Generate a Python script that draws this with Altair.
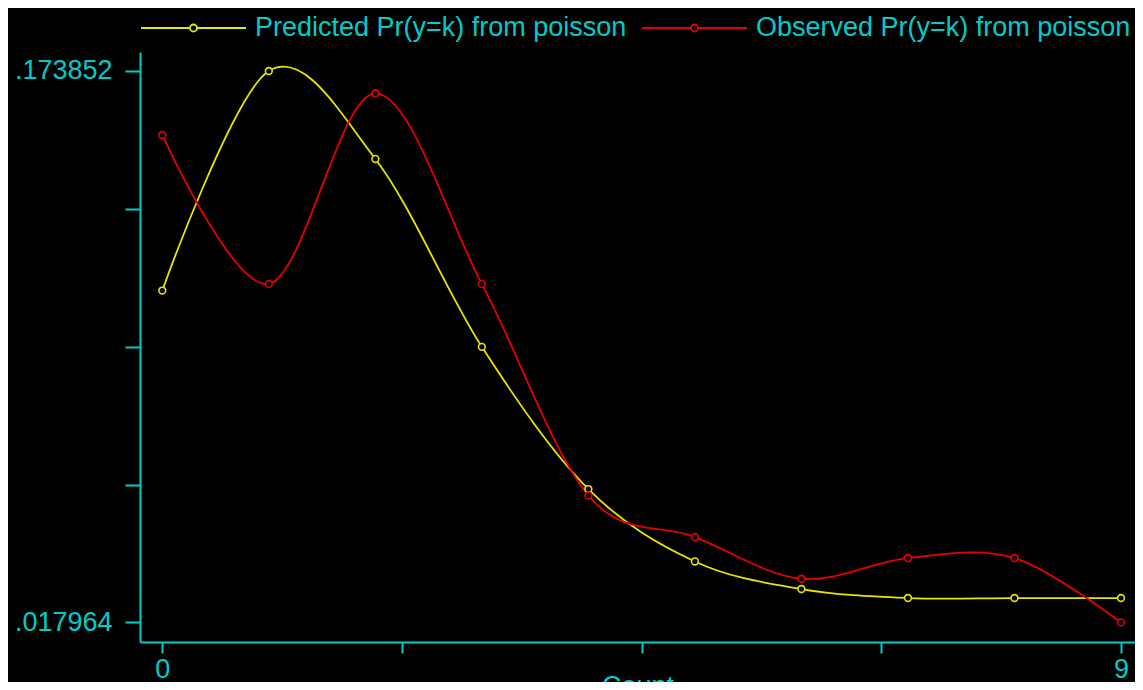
import altair as alt
import pandas as pd

# ---- data ----
counts = [0, 1, 2, 3, 4, 5, 6, 7, 8, 9]
predicted = [0.111774, 0.173852, 0.148987, 0.095866, 0.055658,
             0.035200, 0.027402, 0.024858, 0.024858, 0.024858]
observed = [0.155769, 0.113667, 0.167551, 0.113667, 0.053849,
            0.042095, 0.030312, 0.036161, 0.036161, 0.017964]
series_names = ["Predicted Pr(y=k) from poisson", "Observed Pr(y=k) from poisson"]
series_colors = ["#E6E600", "#E60000"]

y_tick_values = [0.017964, 0.056936, 0.095908, 0.134880, 0.173852]
y_tick_labels = [".017964", "", "", "", ".173852"]
x_tick_values = [0, 2.25, 4.5, 6.75, 9]
x_tick_labels = ["0", "", "", "", "9"]
x_title = "Count"

CYAN = "#00CCCC"
FONT = "Liberation Sans"
FS = 27

rows = []
for name, vals in zip(series_names, [predicted, observed]):
    for c, v in zip(counts, vals):
        rows.append({"count": c, "prob": v, "series": name})
df = pd.DataFrame(rows)


def label_expr(values, labels):
    parts = []
    for v, l in zip(values, labels):
        parts.append(f"abs(datum.value - {v}) < 1e-7 ? '{l}'")
    return " : ".join(parts) + " : ''"


x_enc = alt.X(
    "count:Q",
    scale=alt.Scale(domain=[-0.2093, 9.1316], nice=False, zero=False),
    axis=alt.Axis(
        values=x_tick_values,
        labelExpr=label_expr(x_tick_values, x_tick_labels),
        title=x_title,
        grid=False,
        tickSize=11,
        labelPadding=3,
        titleY=31,
        titleBaseline="top",
    ),
)
y_enc = alt.Y(
    "prob:Q",
    scale=alt.Scale(domain=[0.012426, 0.179221], nice=False, zero=False),
    axis=alt.Axis(
        values=y_tick_values,
        labelExpr=label_expr(y_tick_values, y_tick_labels),
        title=None,
        grid=False,
        tickSize=15,
        labelPadding=13,
    ),
)

r = 0.0667
sym_path = f"M-1,0H{-r}M{r},0H1M{r},0A{r},{r},0,1,1,{-r},0A{r},{r},0,1,1,{r},0Z"

legend = alt.Legend(
    orient="none",
    legendX=0,
    legendY=-38,
    direction="horizontal",
    title=None,
    symbolType=sym_path,
    symbolSize=11025,
    symbolStrokeWidth=1.8,
    symbolFillColor="black",
    clipHeight=28,
    labelFont=FONT,
    labelFontSize=FS,
    labelColor=CYAN,
    labelOffset=8,
    columnPadding=14,
    labelLimit=0,
)

color_scale = alt.Scale(domain=series_names, range=series_colors)

lines = alt.Chart(df).mark_line(interpolate="cardinal", strokeWidth=1.8).encode(
    x=x_enc,
    y=y_enc,
    color=alt.Color("series:N", scale=color_scale, sort=series_names, legend=legend),
    detail="series:N",
)

points = alt.Chart(df).mark_point(
    shape="circle", filled=False, fill="black", fillOpacity=1, size=46,
    strokeWidth=1.6, opacity=1,
).encode(
    x=x_enc,
    y=y_enc,
    color=alt.Color("series:N", scale=color_scale, sort=series_names, legend=None),
)

chart = (
    alt.layer(lines, points)
    .properties(
        width=995,
        height=590,
        padding={"left": 132, "top": 44, "right": 0, "bottom": 40},
        autosize=alt.AutoSizeParams(type="none"),
        background="black",
    )
    .configure(font=FONT)
    .configure_view(stroke=None)
    .configure_axis(
        domainColor=CYAN,
        domainWidth=2,
        tickColor=CYAN,
        tickWidth=2,
        labelColor=CYAN,
        labelFont=FONT,
        labelFontSize=FS,
        titleColor=CYAN,
        titleFont=FONT,
        titleFontSize=FS,
        titleFontWeight="normal",
    )
)

chart.save("out.html", embed_options={"renderer": "svg", "actions": False})
